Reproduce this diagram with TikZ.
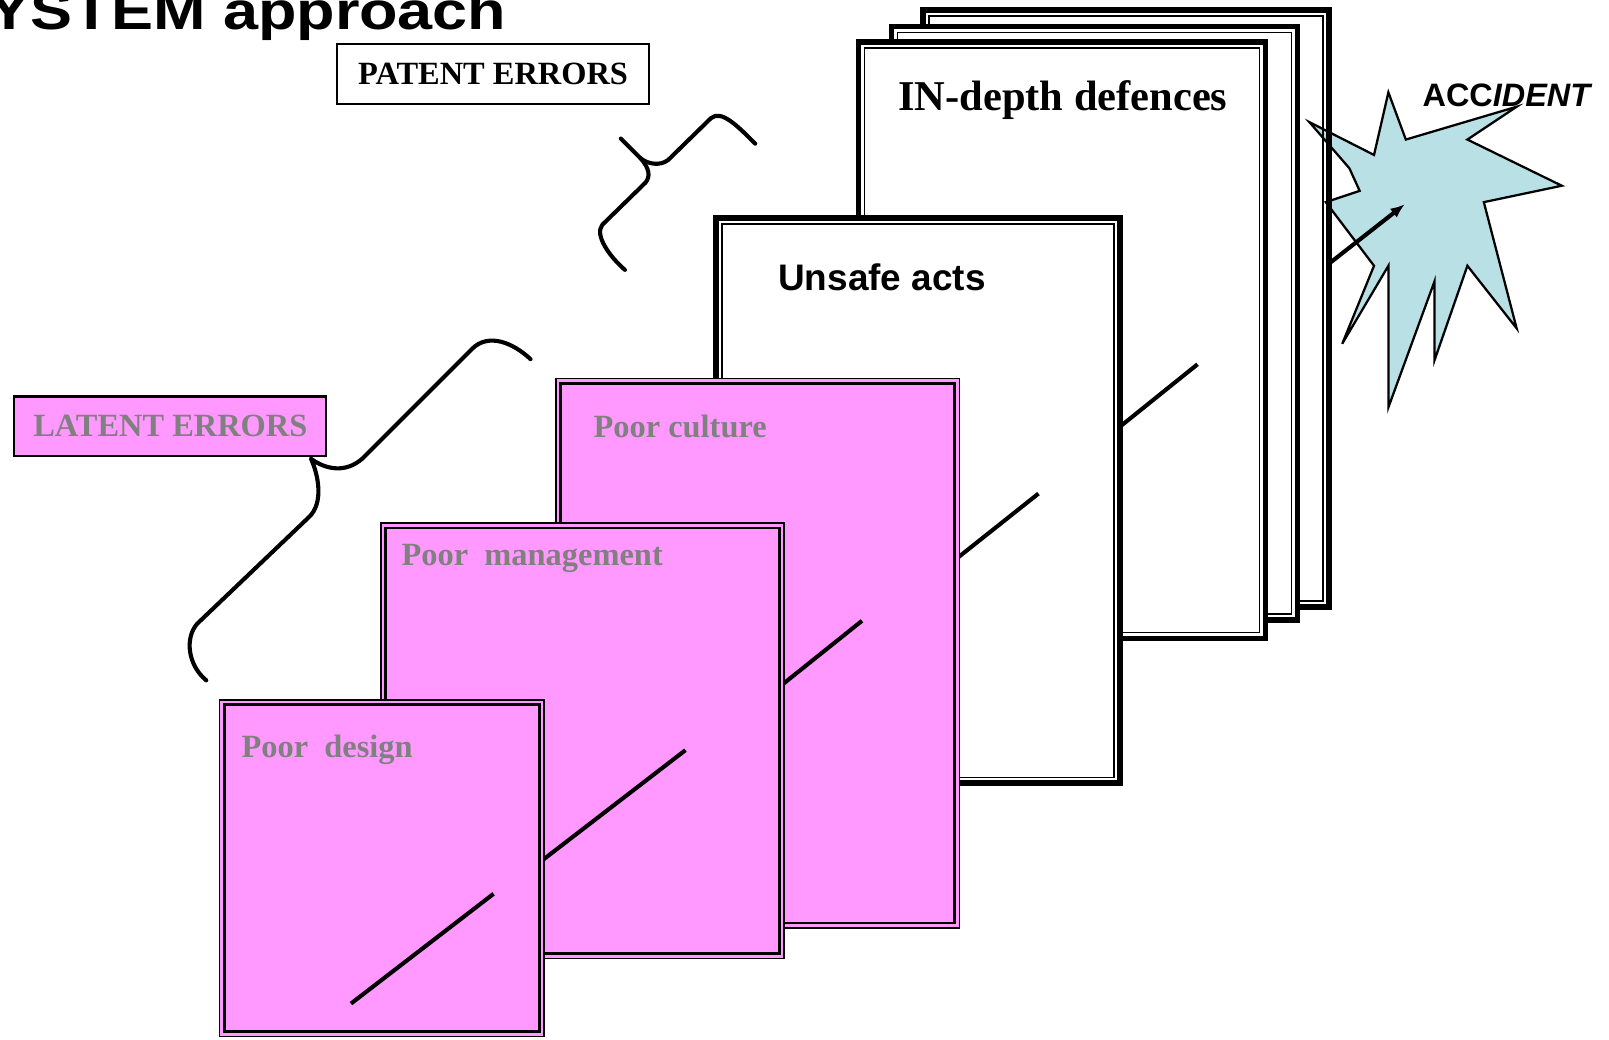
\documentclass[tikz,border=0pt]{standalone}
\usepackage{fontspec}
\setmainfont{Liberation Serif}
\newfontfamily\arialfont{Liberation Sans}
\usetikzlibrary{arrows.meta}
\definecolor{pinkfill}{RGB}{255,153,255}
\definecolor{labelgray}{RGB}{128,128,128}
\definecolor{starblue}{RGB}{185,224,228}

% thick/thin bordered white sheet (outer edges x1,y1,x2,y2)
\newcommand\defenceborder[4]{%
  \draw[line width=2.75pt] ([shift={(2.75,2.75)}]#1,#2) rectangle ([shift={(-2.75,-2.75)}]#3,#4);
  \draw[line width=0.8pt] ([shift={(8.5,8.5)}]#1,#2) rectangle ([shift={(-8.5,-8.5)}]#3,#4);}
\newcommand\defencesheet[4]{%
  \fill[white] (#1,#2) rectangle (#3,#4);
  \defenceborder{#1}{#2}{#3}{#4}}
% pink sheet with a double thin border
\newcommand\pinksheet[4]{%
  \filldraw[draw=black, line width=0.9pt, fill=pinkfill] ([shift={(0.9,0.9)}]#1,#2) rectangle ([shift={(-0.9,-0.9)}]#3,#4);
  \draw[line width=1.4pt] ([shift={(5.5,5.5)}]#1,#2) rectangle ([shift={(-5.5,-5.5)}]#3,#4);}

\begin{document}
\begin{tikzpicture}[x=0.5pt,y=-0.5pt,
  serifbold/.style={font=\fontsize{15.8}{18}\selectfont\bfseries, inner sep=0pt},
  graylabel/.style={serifbold, text=labelgray, anchor=base west},
  trackline/.style={line width=2pt, line cap=butt},
  bracecurve/.style={line width=2pt, line cap=round, line join=round},
  labelbox/.style={line width=1.1pt, inner sep=0pt, minimum width=152pt, minimum height=29pt, serifbold}]
\useasboundingbox (0,0) rectangle (1568,1013);

% accident burst, behind the last defence sheet's border
\filldraw[fill=starblue, draw=black, line width=1.1pt, line join=miter]
  (1276,119) -- (1339,151) -- (1353,90) -- (1370,136) -- (1478,104) -- (1430,136)
  -- (1522,181) -- (1446,197) -- (1478,320) -- (1430,259) -- (1398,351) -- (1398,274)
  -- (1353,397) -- (1353,259) -- (1308,335) -- (1339,259) -- (1292,197) -- (1325,186)
  -- (1315,164) -- cycle;

% defences in depth
\defenceborder{897}{7}{1298}{594}
\defencesheet{866}{23}{1267}{607}
\defencesheet{834}{38}{1236}{625}
\node[font=\fontsize{20.7}{24}\selectfont\bfseries, anchor=base west, inner sep=0pt] (defences) at (875,108) {IN-depth defences};
\draw[trackline] (1070,433) -- (1167,355);
\coordinate (arrowstart) at (1295,257);
\coordinate (arrowend) at (1369,199);
\draw[line width=2pt, -{Latex[length=7pt,width=5.5pt]}] (arrowstart) -- (arrowend);
\node[font=\arialfont\fontsize{15.8}{18}\selectfont\bfseries, anchor=base west, inner sep=0pt] (accident) at (1386,104) {ACC\itshape IDENT};

% unsafe acts
\defencesheet{695}{210}{1094}{766}
\node[font=\arialfont\fontsize{18}{21}\selectfont\bfseries, anchor=base west, inner sep=0pt] (unsafe) at (758,283) {Unsafe acts};
\draw[trackline] (910,562) -- (1012,481);

% latent conditions
\pinksheet{541}{368}{936}{905}
\node[graylabel] (culture) at (578,426) {Poor culture};
\draw[trackline] (740,685) -- (840,605);

\pinksheet{370}{509}{765}{935}
\node[graylabel] (management) at (391,551) {Poor\ \ management};
\draw[trackline] (490,868) -- (668,731);

\pinksheet{213}{681}{531}{1011}
\node[graylabel] (design) at (235,738) {Poor\ \ design};
\draw[trackline] (342,978) -- (481,871);

% labels
\node[labelbox, draw=black, fill=white] (patent) at (480.5,72) {PATENT ERRORS};
\node[labelbox, draw=black, fill=pinkfill, text=labelgray] (latent) at (166,415.5) {LATENT ERRORS};

% braces
\draw[bracecurve] (736,140) .. controls (718,122) and (703,107) .. (693,115) -- (651,156)
  .. controls (643,162) and (631,160) .. (624,154) -- (605,135);
\draw[bracecurve] (624,154) .. controls (633,164) and (634,172) .. (629,178) -- (587,219)
  .. controls (579,229) and (594,250) .. (609,263);
\draw[bracecurve] (517,350) .. controls (500,334) and (476,324) .. (460,340) -- (353,447)
  .. controls (337,461) and (318,458) .. (303,447)
  .. controls (310,462) and (316,490) .. (301,504) -- (192,608)
  .. controls (180,622) and (183,648) .. (201,663);

% heading
\node[font=\arialfont\fontsize{26}{30}\selectfont\bfseries, anchor=base east, inner sep=0pt] (heading) at (494,29) {\scalebox{1.18}[1]{YSTEM approach}};
\end{tikzpicture}
\end{document}
